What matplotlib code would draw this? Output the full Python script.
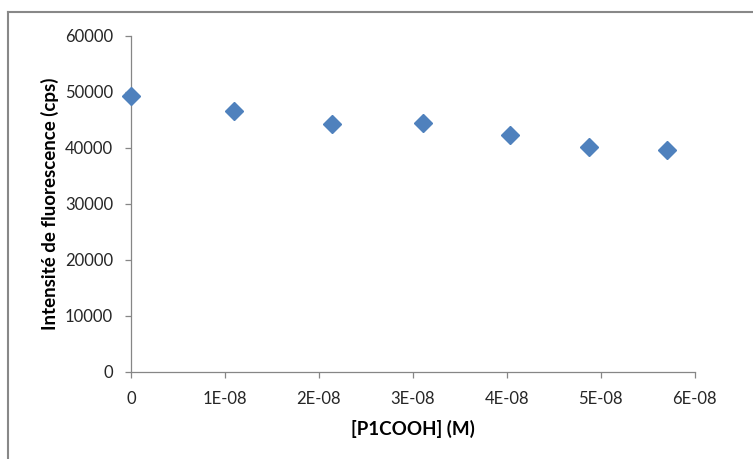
import matplotlib.pyplot as plt
from matplotlib.lines import Line2D

# data
conc = [0, 1.10e-08, 2.14e-08, 3.11e-08, 4.03e-08, 4.88e-08, 5.70e-08]
intensity = [49300, 46600, 44250, 44450, 42300, 40150, 39600]

x_ticks = [0, 1e-08, 2e-08, 3e-08, 4e-08, 5e-08, 6e-08]
x_labels = ["0", "1E-08", "2E-08", "3E-08", "4E-08", "5E-08", "6E-08"]
y_ticks = [0, 10000, 20000, 30000, 40000, 50000, 60000]

plt.rcParams['font.family'] = ['Lato', 'DejaVu Sans']

fig = plt.figure(figsize=(7.53, 4.59), dpi=100)
ax = fig.add_axes([131/753, 1-372/459, (694.7-131)/753, (372-36)/459])

ax.plot(conc, intensity, linestyle='none', marker='D', markersize=9.5,
        color='#4F81BD', clip_on=False, zorder=3)

ax.set_xlim(0, 6e-08)
ax.set_ylim(0, 60000)
ax.set_xticks(x_ticks)
ax.set_xticklabels(x_labels)
ax.set_yticks(y_ticks)

for s in ['top', 'right']:
    ax.spines[s].set_visible(False)
for s in ['left', 'bottom']:
    ax.spines[s].set_color('#868686')
    ax.spines[s].set_linewidth(0.9)
ax.tick_params(direction='out', length=4, width=0.9, color='#868686',
               labelsize=12, labelcolor='#262626')
ax.tick_params(axis='y', pad=9)
ax.tick_params(axis='x', pad=10)

ax.set_xlabel("[P1COOH] (M)", fontsize=13.5, fontweight='bold', labelpad=9)
ax.set_ylabel("Intensité de fluorescence (cps)", fontsize=13.5, fontweight='bold', labelpad=4)

# frame of the chart area (cut on the right and bottom)
fig.add_artist(Line2D([8/753, 8/753], [0, 1-12/459], color='#888888', lw=1.5))
fig.add_artist(Line2D([8/753, 1], [1-12/459, 1-12/459], color='#888888', lw=1.5))

fig.savefig('out.png', dpi=100)
